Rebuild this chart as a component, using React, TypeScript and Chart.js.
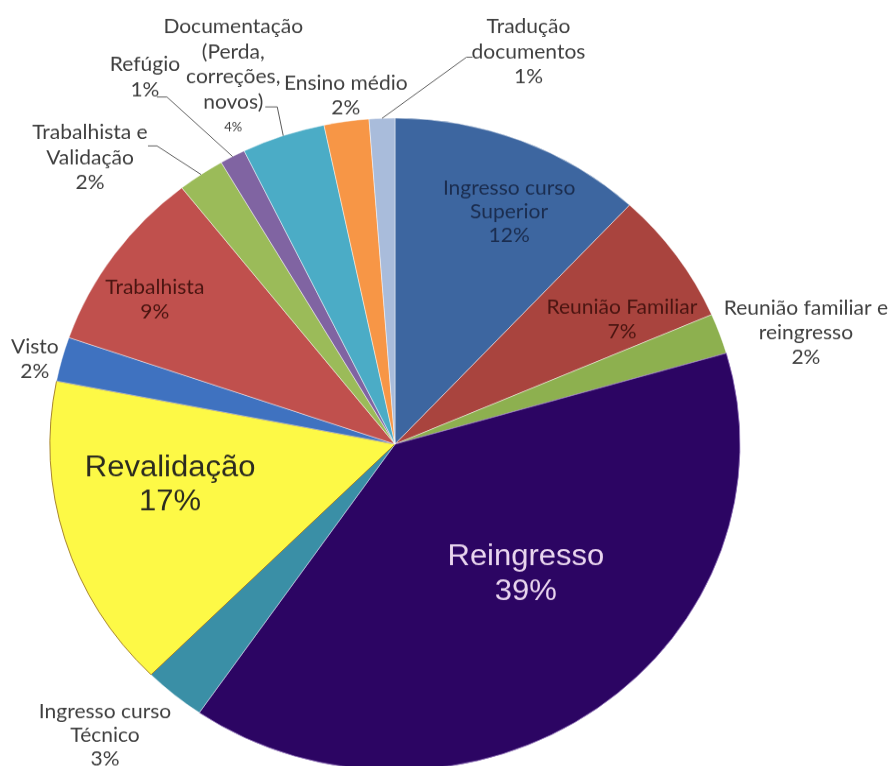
import React, { useEffect, useRef } from "react";
import { Chart, registerables } from "chart.js";

Chart.register(...registerables);

// ---- data ----
const categories: string[] = [
  "Ingresso curso\nSuperior",
  "Reunião Familiar",
  "Reunião familiar e\nreingresso",
  "Reingresso",
  "Ingresso curso\nTécnico",
  "Revalidação",
  "Visto",
  "Trabalhista",
  "Trabalhista e\nValidação",
  "Refúgio",
  "Documentação\n(Perda,\ncorreções,\nnovos)",
  "Ensino médio",
  "Tradução\ndocumentos",
];
const shares: number[] = [11.9, 6.6, 2.0, 39.1, 2.9, 15.6, 2.2, 9.1, 2.2, 1.2, 3.9, 2.1, 1.2];
const percentLabels: string[] = ["12%", "7%", "2%", "39%", "3%", "17%", "2%", "9%", "2%", "1%", "4%", "2%", "1%"];

// ---- styles ----
const sliceColors = [
  "#3D66A0", "#A9443E", "#8DB04F", "#2C0563", "#3A8FA6", "#FDF946", "#3F72C0",
  "#C0504D", "#9BBB59", "#8064A2", "#4BACC6", "#F79646", "#A9BCDB",
];
const sliceBorders = [
  "rgba(255,255,255,0.45)", "rgba(255,255,255,0.45)", "rgba(255,255,255,0.45)", "rgba(150,120,190,0.8)",
  "rgba(255,255,255,0.45)", "#A8852C", "rgba(255,255,255,0.45)", "rgba(255,255,255,0.45)",
  "rgba(255,255,255,0.45)", "rgba(255,255,255,0.45)", "rgba(255,255,255,0.45)", "rgba(255,255,255,0.45)",
  "rgba(255,255,255,0.45)",
];

const SMALL = "21px Lato, 'Open Sans', sans-serif";
const BIG = "31px 'Liberation Sans', Arial, sans-serif";
const OUT = "#3F3F3F";

type LabelStyle = {
  r: number; da: number; font: string; color: string; lh: number;
  pctFont?: string;
  leader?: [number, number, number];
};
const labelStyles: LabelStyle[] = [
  { r: 0.785, da: 3.5, font: SMALL, color: "#1B2D4F", lh: 25 },
  { r: 0.761, da: 5.1, font: SMALL, color: "#4A1511", lh: 26 },
  { r: 1.239, da: 3.8, font: SMALL, color: OUT, lh: 26 },
  { r: 0.552, da: -7.6, font: BIG, color: "#E9D5EE", lh: 37 },
  { r: 1.226, da: 3.5, font: SMALL, color: OUT, lh: 25 },
  { r: 0.664, da: 6.0, font: BIG, color: "#2B2B20", lh: 36 },
  { r: 1.076, da: -1.1, font: SMALL, color: OUT, lh: 26.5 },
  { r: 0.825, da: -3.0, font: SMALL, color: "#4A1511", lh: 26.5 },
  { r: 1.246, da: -11.0, font: SMALL, color: OUT, lh: 26.5, leader: [58, 67, -12.7] },
  { r: 1.339, da: -4.7, font: SMALL, color: OUT, lh: 26.5, leader: [12, 22, 21] },
  { r: 1.22, da: -3.7, font: SMALL, color: OUT, lh: 26.5, pctFont: "13px Lato, sans-serif", leader: [32, 44, 31.7] },
  { r: 1.079, da: 0.5, font: SMALL, color: OUT, lh: 26.5 },
  { r: 1.263, da: 20.0, font: SMALL, color: OUT, lh: 26.5, leader: [-56, -62, 5.3] },
];

const labelPlugin = {
  id: "sliceLabels",
  afterDatasetsDraw(chart: any) {
    const ctx = chart.ctx as CanvasRenderingContext2D;
    const meta = chart.getDatasetMeta(0);
    meta.data.forEach((arc: any, i: number) => {
      const st = labelStyles[i];
      if (!st) return;
      const { x, y, startAngle, endAngle, outerRadius } = arc.getProps(
        ["x", "y", "startAngle", "endAngle", "outerRadius"], true);
      const mid = (startAngle + endAngle) / 2;
      const a = mid + (st.da * Math.PI) / 180;
      const cx = x + Math.cos(a) * outerRadius * st.r;
      const cy = y + Math.sin(a) * outerRadius * st.r;
      ctx.save();
      if (st.leader) {
        const [sx, tx, ly] = st.leader;
        ctx.strokeStyle = "#5A5A5A";
        ctx.lineWidth = 1;
        ctx.beginPath();
        ctx.moveTo(cx + sx, cy + ly);
        ctx.lineTo(cx + tx, cy + ly);
        ctx.lineTo(x + Math.cos(mid) * outerRadius, y + Math.sin(mid) * outerRadius);
        ctx.stroke();
      }
      const lines = categories[i].split("\n").concat([percentLabels[i]]);
      const n = lines.length;
      ctx.textAlign = "center";
      ctx.textBaseline = "middle";
      ctx.fillStyle = st.color;
      lines.forEach((t, k) => {
        const isPct = k === n - 1;
        ctx.font = isPct && st.pctFont ? st.pctFont : st.font;
        ctx.fillText(t, cx, cy + (k - (n - 1) / 2) * st.lh);
      });
      ctx.restore();
    });
  },
};

export default function App() {
  const ref = useRef<HTMLCanvasElement | null>(null);
  useEffect(() => {
    if (!ref.current) return;
    const chart = new Chart(ref.current, {
      type: "pie",
      data: {
        labels: categories.map((c) => c.replace(/\n/g, " ")),
        datasets: [
          {
            data: shares,
            backgroundColor: sliceColors,
            borderColor: sliceBorders,
            borderWidth: 1,
          },
        ],
      },
      options: {
        responsive: false,
        devicePixelRatio: 1,
        animation: false,
        radius: 345,
        layout: { padding: { left: 50, right: 148, top: 129, bottom: 0 } },
        plugins: {
          legend: { display: false },
          tooltip: { enabled: false },
        },
      } as any,
      plugins: [labelPlugin],
    });
    return () => chart.destroy();
  }, []);
  return (
    <div style={{ position: "absolute", left: 0, top: 0, width: 888, height: 766, overflow: "hidden", background: "#fff" }}>
      <div style={{ width: 888, height: 811, transform: "scaleY(0.945)", transformOrigin: "0 0" }}>
        <canvas ref={ref} width={888} height={811} style={{ width: 888, height: 811, display: "block" }} />
      </div>
    </div>
  );
}
